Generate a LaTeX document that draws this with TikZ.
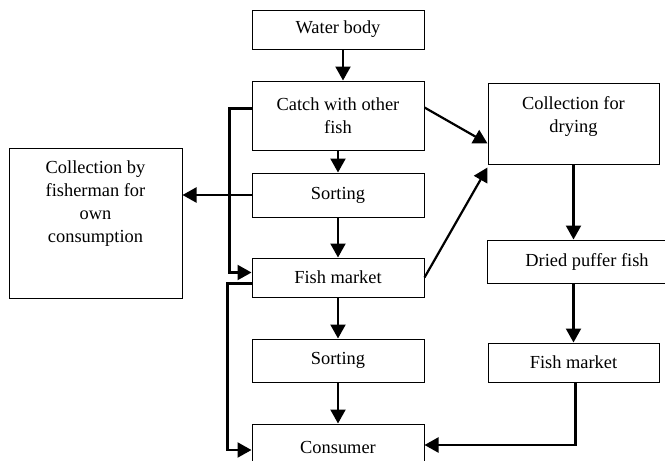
\documentclass[tikz,border=0pt]{standalone}
\usepackage{fontspec}
\setmainfont{Liberation Serif}
\usetikzlibrary{arrows.meta}
\usetikzlibrary{positioning}
\tikzset{box/.style = {draw, line width=1pt, align=center, inner sep=0pt,
                       font=\fontsize{18.4}{23}\selectfont},
         flow/.style = {line width=2.2pt, -{Triangle[length=14pt,width=15pt]}}}
\begin{document}
\begin{tikzpicture}[x=1pt, y=-1pt]
        \useasboundingbox (0,0) rectangle (665,461);
        \clip (0,0) rectangle (665,461);
        \node[box, minimum width=172pt, minimum height=39pt] (water) at (338,29.5) {Water body};
        \node[box, minimum width=172pt, minimum height=69pt] (catch) at (338,115.5) {Catch with other\\fish};
        \node[box, minimum width=172pt, minimum height=44pt] (sortA) at (338,195) {Sorting};
        \node[box, minimum width=172pt, minimum height=39pt] (marketA) at (338,277.5) {Fish market};
        \node[box, minimum width=172pt, minimum height=43pt] (sortB) at (338,360.5) {Sorting};
        \node[box, minimum width=172pt, minimum height=46pt] (consumer) at (338,447) {Consumer};
        \node[box, minimum width=173pt, minimum height=150pt] (fisher) at (95.5,223) {};
        \node[box, draw=none] (fishertxt) at (95.5,204) {Collection by\\fisherman for\\own\\consumption};
        \node[box, minimum width=171pt, minimum height=81pt] (drying) at (573.5,123.5) {};
        \node[box, draw=none] (dryingtxt) at (573.5,117) {Collection for\\drying};
        \node[box, minimum width=200pt, minimum height=43pt] (dried) at (587,261.5) {Dried puffer fish};
        \node[box, minimum width=171pt, minimum height=39pt] (marketB) at (573.5,362.5) {Fish market};
        % main column
        \draw[flow] ([xshift=5pt]water.south) -- ([xshift=5pt]catch.north);
        \draw[flow] (catch) -- (sortA);
        \draw[flow] (sortA) -- (marketA);
        \draw[flow] (marketA) -- (sortB);
        \draw[flow] (sortB) -- (consumer);
        % side branches
        \draw[flow] (sortA.west) -- (sortA.west -| fisher.east);
        \draw[flow] ([yshift=7pt]catch.west) -- ++(-22,0) |- ([yshift=5pt]marketA.west);
        \draw[flow] ([yshift=-6pt]marketA.west) -- ++(-24,0) |- ([yshift=-3pt]consumer.west);
        \draw[flow] ([yshift=8pt]catch.east) -- ([yshift=-20pt]drying.west);
        \draw[flow] (marketA.east) -- ([yshift=-3pt]drying.south west);
        % drying column
        \draw[flow] (drying.south) -- (drying.south |- dried.north);
        \draw[flow] (marketB.north |- dried.south) -- (marketB.north);
        \draw[flow] ([xshift=2pt]marketB.south) |- ([yshift=2pt]consumer.east);
    \end{tikzpicture}
\end{document}
